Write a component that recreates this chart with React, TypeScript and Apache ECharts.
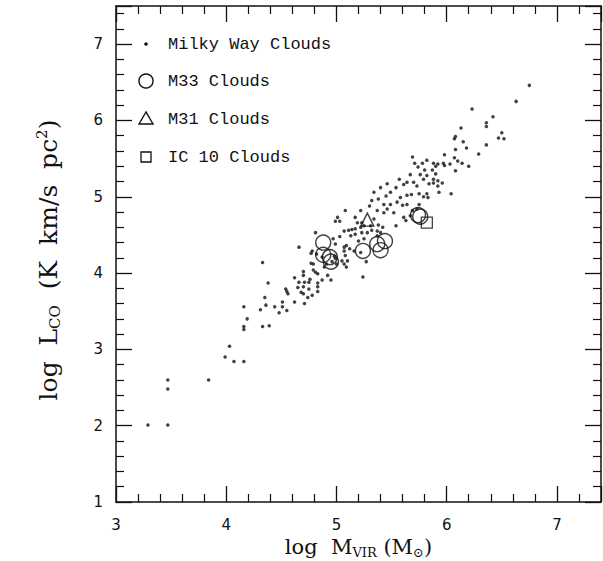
import React, { useEffect, useRef } from "react";
import * as echarts from "echarts";

// Milky Way clouds: [log Mvir, log Lco]
const milkyWay: [number, number][] = [
  [3.29, 2.01], [3.47, 2.01], [3.47, 2.6], [3.47, 2.48], [3.84, 2.6], [3.99, 2.9], [4.03, 3.04],
  [4.07, 2.84], [4.16, 2.84], [4.16, 3.3], [4.16, 3.26], [4.16, 3.56], [4.19, 3.4], [4.31, 3.52],
  [4.33, 3.3], [4.39, 3.31], [4.35, 3.68], [4.36, 3.58], [4.44, 3.56], [4.48, 3.48], [4.51, 3.62],
  [4.51, 3.56], [4.55, 3.51], [4.33, 4.14], [4.38, 3.87], [4.62, 3.62], [4.71, 3.6], [4.54, 3.79],
  [4.55, 3.76], [4.56, 3.73], [4.65, 3.81], [4.68, 3.75], [4.7, 3.82], [4.7, 3.73], [4.74, 3.68],
  [4.83, 3.76], [4.83, 3.82], [4.62, 3.94], [4.71, 3.88], [4.75, 3.88], [4.83, 3.87], [4.7, 4.02],
  [4.7, 3.97], [4.79, 4.04], [4.81, 4.01], [4.83, 3.99], [4.87, 3.91], [4.92, 3.97], [4.95, 3.91],
  [4.77, 4.26], [4.77, 4.13], [4.66, 4.34], [4.81, 4.53], [4.89, 4.08], [4.91, 4.12], [4.96, 4.15],
  [5.0, 4.12], [4.99, 4.19], [5.05, 4.16], [5.07, 4.12], [5.09, 4.08], [5.07, 4.34], [5.09, 4.36],
  [5.12, 4.32], [4.97, 4.45], [5.03, 4.48], [5.13, 4.49], [5.17, 4.51], [5.23, 4.53], [5.28, 4.53],
  [5.22, 4.27], [5.24, 3.95], [5.27, 4.15], [4.78, 4.29], [4.82, 4.25], [4.87, 4.21], [4.98, 4.22],
  [4.79, 4.12], [4.76, 3.92], [4.66, 3.88], [4.75, 3.79], [4.78, 3.71], [4.99, 4.38], [5.07, 4.29],
  [5.08, 4.23], [5.1, 4.16], [5.16, 4.29], [5.37, 4.49], [5.25, 4.45], [5.2, 4.42], [5.07, 4.55],
  [5.11, 4.56], [5.14, 4.57], [5.17, 4.58], [5.22, 4.6], [5.25, 4.62], [5.19, 4.66], [5.23, 4.66],
  [5.31, 4.62], [5.32, 4.56], [5.37, 4.55], [5.34, 4.71], [5.38, 4.63], [5.42, 4.6], [5.4, 4.53],
  [5.54, 4.62], [5.01, 4.73], [4.99, 4.68], [5.03, 4.68], [5.08, 4.82], [5.17, 4.73], [5.22, 4.82],
  [5.3, 4.88], [5.37, 4.82], [5.43, 4.79], [5.46, 4.84], [5.52, 4.79], [5.61, 4.73], [5.63, 4.69],
  [5.67, 4.75], [5.69, 4.82], [5.43, 4.9], [5.49, 4.9], [5.55, 4.93], [5.6, 4.89], [5.64, 4.9],
  [5.75, 4.9], [5.32, 4.95], [5.38, 4.97], [5.34, 5.06], [5.45, 5.01], [5.49, 5.06], [5.4, 5.12],
  [5.46, 5.17], [5.54, 5.12], [5.58, 4.99], [5.64, 5.02], [5.68, 5.03], [5.75, 5.04], [5.79, 5.0],
  [5.82, 5.04], [5.93, 5.06], [6.04, 5.04], [5.57, 5.23], [5.64, 5.19], [5.7, 5.19], [5.73, 5.14],
  [5.84, 5.17], [5.88, 5.18], [5.92, 5.14], [5.96, 5.18], [5.67, 5.29], [5.76, 5.29], [5.82, 5.28],
  [5.9, 5.3], [5.8, 5.35], [5.87, 5.35], [5.9, 5.4], [5.69, 5.52], [5.71, 5.44], [5.74, 5.39],
  [5.78, 5.44], [5.82, 5.48], [5.88, 5.44], [5.92, 5.43], [5.97, 5.44], [5.98, 5.55], [6.07, 5.51],
  [6.1, 5.47], [6.14, 5.44], [6.2, 5.4], [6.29, 5.56], [6.75, 6.46], [6.63, 6.25], [6.23, 6.15],
  [6.42, 6.05], [6.36, 5.97], [6.36, 5.92], [6.13, 5.9], [6.08, 5.79], [6.07, 5.76], [6.15, 5.72],
  [6.5, 5.84], [6.47, 5.77], [6.52, 5.76], [6.36, 5.68], [6.18, 5.64], [6.08, 5.62], [6.03, 5.43],
  [6.08, 5.34], [5.98, 5.41], [5.79, 5.23], [5.88, 5.23], [5.92, 5.21], [5.61, 5.16], [5.83, 4.99],
  [5.73, 4.84],
];

const m33: [number, number][] = [
  [4.88, 4.4], [4.88, 4.24], [4.94, 4.21], [4.95, 4.15], [5.24, 4.29],
  [5.37, 4.38], [5.44, 4.42], [5.4, 4.3], [5.74, 4.76], [5.76, 4.74],
];
const m31: [number, number][] = [[5.28, 4.7]];
const ic10: [number, number][] = [[5.82, 4.66]];

const legendNames = ["Milky Way Clouds", "M33 Clouds", "M31 Clouds", "IC 10 Clouds"];

const X_MIN = 3, X_MAX = 7.4, Y_MIN = 1, Y_MAX = 7.5;

const INK = "#111";
const GRID = { left: 116, right: 2, top: 6, bottom: 59 };

export default function App() {
  const ref = useRef<HTMLDivElement>(null);
  useEffect(() => {
    if (!ref.current) return;
    const chart = echarts.init(ref.current, undefined, { renderer: "svg" });
    const intLabel = (v: number) => (Math.abs(v - Math.round(v)) < 1e-6 ? String(Math.round(v)) : "");
    const axis = (dim: "x" | "y", pos: string, withLabel: boolean): any => ({
      type: "value", position: pos,
      min: dim === "x" ? X_MIN : Y_MIN, max: dim === "x" ? X_MAX : Y_MAX, interval: 1,
      axisLine: { show: true, onZero: false, lineStyle: { color: INK, width: 1.5 } },
      axisTick: { show: true, inside: true, length: 16, lineStyle: { color: INK, width: 1.3 } },
      minorTick: { show: true, splitNumber: 5, length: 8, lineStyle: { color: INK, width: 1.2 } },
      splitLine: { show: false },
      minorSplitLine: { show: false },
      axisLabel: withLabel
        ? { show: true, formatter: intLabel, margin: dim === "x" ? 15 : 13, color: INK, fontFamily: "DejaVu Sans", fontSize: 15 }
        : { show: false },
    });

    const rich = (size: number, sub: number) => ({
      a: { fontFamily: "DejaVu Serif", fontSize: size, color: INK, lineHeight: size + 3 },
      s: { fontFamily: "DejaVu Serif", fontSize: sub, color: INK, lineHeight: sub + 3, verticalAlign: "bottom" },
      p: { fontFamily: "DejaVu Serif", fontSize: sub, color: INK, lineHeight: sub + 3, verticalAlign: "top" },
    });

    const xBottom = axis("x", "bottom", true);
    xBottom.name = "{a|log  M}{s|VIR}{a| (M}{s|⊙}{a|)}";
    xBottom.nameLocation = "middle";
    xBottom.nameGap = 31;
    xBottom.nameTextStyle = { rich: rich(21, 13) };

    const yLeft = axis("y", "left", true);
    yLeft.name = "{a|log  L}{s|CO}{a|  (K  km/s  pc}{p|2}{a|)}";
    yLeft.nameLocation = "middle";
    yLeft.nameGap = 54;
    yLeft.nameRotate = 90;
    yLeft.nameTextStyle = { rich: rich(25, 15), padding: [0, 12, 0, 0] };

    const legendX = 146, textX = 168;
    const rowsY = [44, 81, 119, 157];
    const legendFont = { fontFamily: "Liberation Mono", fontSize: 17 };

    chart.setOption({
      animation: false,
      backgroundColor: "#fff",
      grid: { ...GRID, containLabel: false, outerBoundsMode: "none" },
      xAxis: [xBottom, axis("x", "top", false)],
      yAxis: [yLeft, axis("y", "right", false)],
      series: [
        {
          type: "scatter", name: legendNames[0], xAxisIndex: 0, yAxisIndex: 0,
          data: milkyWay, symbol: "circle", symbolSize: 3.5,
          itemStyle: { color: INK }, silent: true,
        },
        {
          type: "scatter", name: legendNames[1], xAxisIndex: 0, yAxisIndex: 0,
          data: m33, symbol: "circle", symbolSize: 15,
          itemStyle: { color: "rgba(0,0,0,0)", borderColor: INK, borderWidth: 1.4 }, silent: true,
        },
        {
          type: "scatter", name: legendNames[2], xAxisIndex: 0, yAxisIndex: 0,
          data: m31, symbol: "triangle", symbolSize: 13,
          itemStyle: { color: "rgba(0,0,0,0)", borderColor: INK, borderWidth: 1.4 }, silent: true,
        },
        {
          type: "scatter", name: legendNames[3], xAxisIndex: 0, yAxisIndex: 0,
          data: ic10, symbol: "rect", symbolSize: 11,
          itemStyle: { color: "rgba(0,0,0,0)", borderColor: INK, borderWidth: 1.3 }, silent: true,
        },
      ],
      graphic: [
        { type: "circle", shape: { cx: legendX, cy: rowsY[0], r: 1.8 }, style: { fill: INK } },
        { type: "circle", shape: { cx: legendX, cy: rowsY[1], r: 7 }, style: { fill: "none", stroke: INK, lineWidth: 1.4 } },
        {
          type: "polygon",
          shape: { points: [[legendX, rowsY[2] - 7], [legendX - 7, rowsY[2] + 5], [legendX + 7, rowsY[2] + 5]] },
          style: { fill: "none", stroke: INK, lineWidth: 1.4 },
        },
        { type: "rect", shape: { x: legendX - 5, y: rowsY[3] - 5, width: 10, height: 10 }, style: { fill: "none", stroke: INK, lineWidth: 1.3 } },
        ...legendNames.map((n, i) => ({
          type: "text", x: textX, y: rowsY[i],
          style: { text: n, fill: INK, ...legendFont, verticalAlign: "middle", align: "left" },
        })),
      ],
    });
    return () => chart.dispose();
  }, []);
  return (
    <div
      ref={ref}
      style={{ position: "absolute", left: 0, top: 0, width: 603, height: 561, background: "#fff" }}
    />
  );
}
